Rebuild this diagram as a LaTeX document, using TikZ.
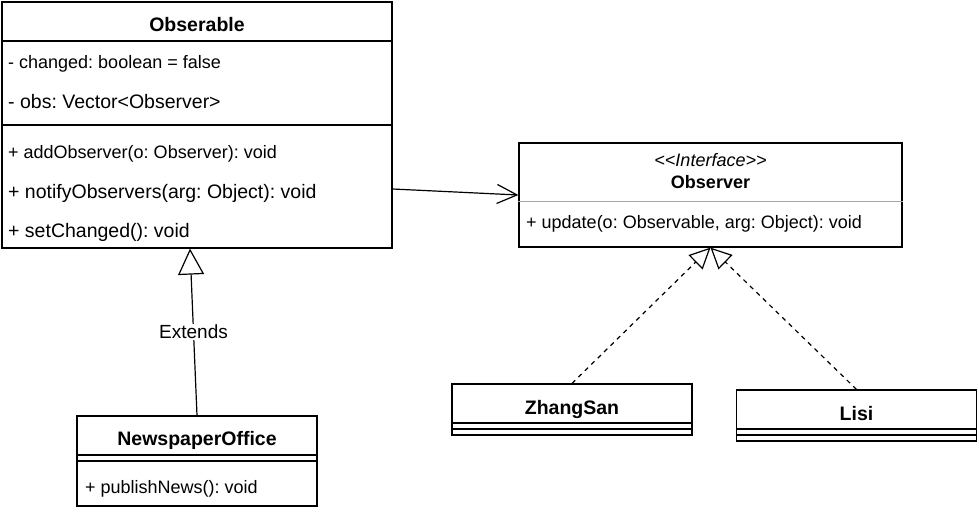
\documentclass[tikz,border=0pt]{standalone}
\usepackage{fontspec}
\setmainfont{Liberation Sans}
\usetikzlibrary{arrows.meta}
\frenchspacing
\begin{document}
\frenchspacing
\begin{tikzpicture}[x=1pt,y=-1pt,
  box/.style={draw, line width=1.2pt, inner sep=0pt, fill=white},
  sep/.style={line width=1.2pt},
  sm/.style={font=\fontsize{18}{21}\selectfont\frenchspacing, inner sep=0pt, anchor=base west},
  lg/.style={font=\fontsize{19.5}{23}\selectfont\frenchspacing, inner sep=0pt, anchor=base west},
  hdlg/.style={font=\fontsize{19.5}{23}\selectfont\bfseries, inner sep=0pt, anchor=base},
  hdsm/.style={font=\fontsize{18}{21}\selectfont\bfseries, inner sep=0pt, anchor=base},
  conn/.style={line width=1.2pt},
  real/.style={conn, dash pattern=on 4.5pt off 4.5pt, -{Triangle[open, length=21pt, width=20pt, line width=1.2pt]}}
]
\useasboundingbox (0,0) rectangle (979,512);
\fill[white] (0,0) rectangle (979,512);

% Obserable
\node[box, minimum width=390pt, minimum height=246pt] (obsbox) at (197,125) {};
\draw[sep] (obsbox.west |- 0,41) -- (obsbox.east |- 0,41);
\draw[sep] (obsbox.west |- 0,125) -- (obsbox.east |- 0,125);
\node[hdlg] (obsname) at (197,31.5) {Obserable};
\node[sm] (f1) at (8,68.5) {- changed: boolean = false};
\node[lg] (f2) at (8,108) {- obs: Vector<Observer>};
\node[sm] (m1) at (8,158.5) {+ addObserver(o: Observer): void};
\node[lg] (m2) at (8,198) {+ notifyObservers(arg: Object): void};
\node[lg] (m3) at (8,237) {+ setChanged(): void};

% Observer interface
\node[box, minimum width=383pt, minimum height=104pt] (ifbox) at (710.5,195) {};
\draw[line width=1pt, black!35] (ifbox.west |- 0,201) -- (ifbox.east |- 0,201);
\node[font=\fontsize{18}{21}\selectfont\itshape, inner sep=0pt, anchor=base] (stereo) at (710.5,166) {<\kern0pt<Interface>\kern0pt>};
\node[hdsm] (ifname) at (710.5,188) {Observer};
\node[sm] (u1) at (526,228) {+ update(o: Observable, arg: Object): void};

% NewspaperOffice
\node[box, minimum width=240pt, minimum height=90pt] (news) at (197,461) {};
\draw[sep] (news.west |- 0,455) -- (news.east |- 0,455);
\draw[sep] (news.west |- 0,461) -- (news.east |- 0,461);
\node[hdlg] (newsname) at (197,445) {NewspaperOffice};
\node[sm] (p1) at (85,493.5) {+ publishNews(): void};

% ZhangSan
\node[box, minimum width=240pt, minimum height=51pt] (zhang) at (572,409.5) {};
\draw[sep] (zhang.west |- 0,423) -- (zhang.east |- 0,423);
\draw[sep] (zhang.west |- 0,429) -- (zhang.east |- 0,429);
\node[hdlg] (zhangname) at (572,414) {ZhangSan};

% Lisi
\node[box, minimum width=240pt, minimum height=51pt] (lisi) at (856.5,415.5) {};
\draw[sep] (lisi.west |- 0,429) -- (lisi.east |- 0,429);
\draw[sep] (lisi.west |- 0,435) -- (lisi.east |- 0,435);
\node[hdlg] (lisiname) at (856.5,420) {Lisi};

% connectors
\draw[conn, -{Straight Barb[length=20pt, width=19pt, line width=1.2pt]}] ([yshift=-64pt]obsbox.east) -- (ifbox.west);
\draw[conn, -{Triangle[open, length=26pt, width=26pt, line width=1.2pt]}] (news.north) -- node[fill=white, inner sep=1.5pt, font=\fontsize{19}{22}\selectfont] (ext) {Extends} ([xshift=-7pt]obsbox.south);
\draw[real] (zhang.north) -- (ifbox.south);
\draw[real] (lisi.north) -- (ifbox.south);
\end{tikzpicture}
\end{document}
